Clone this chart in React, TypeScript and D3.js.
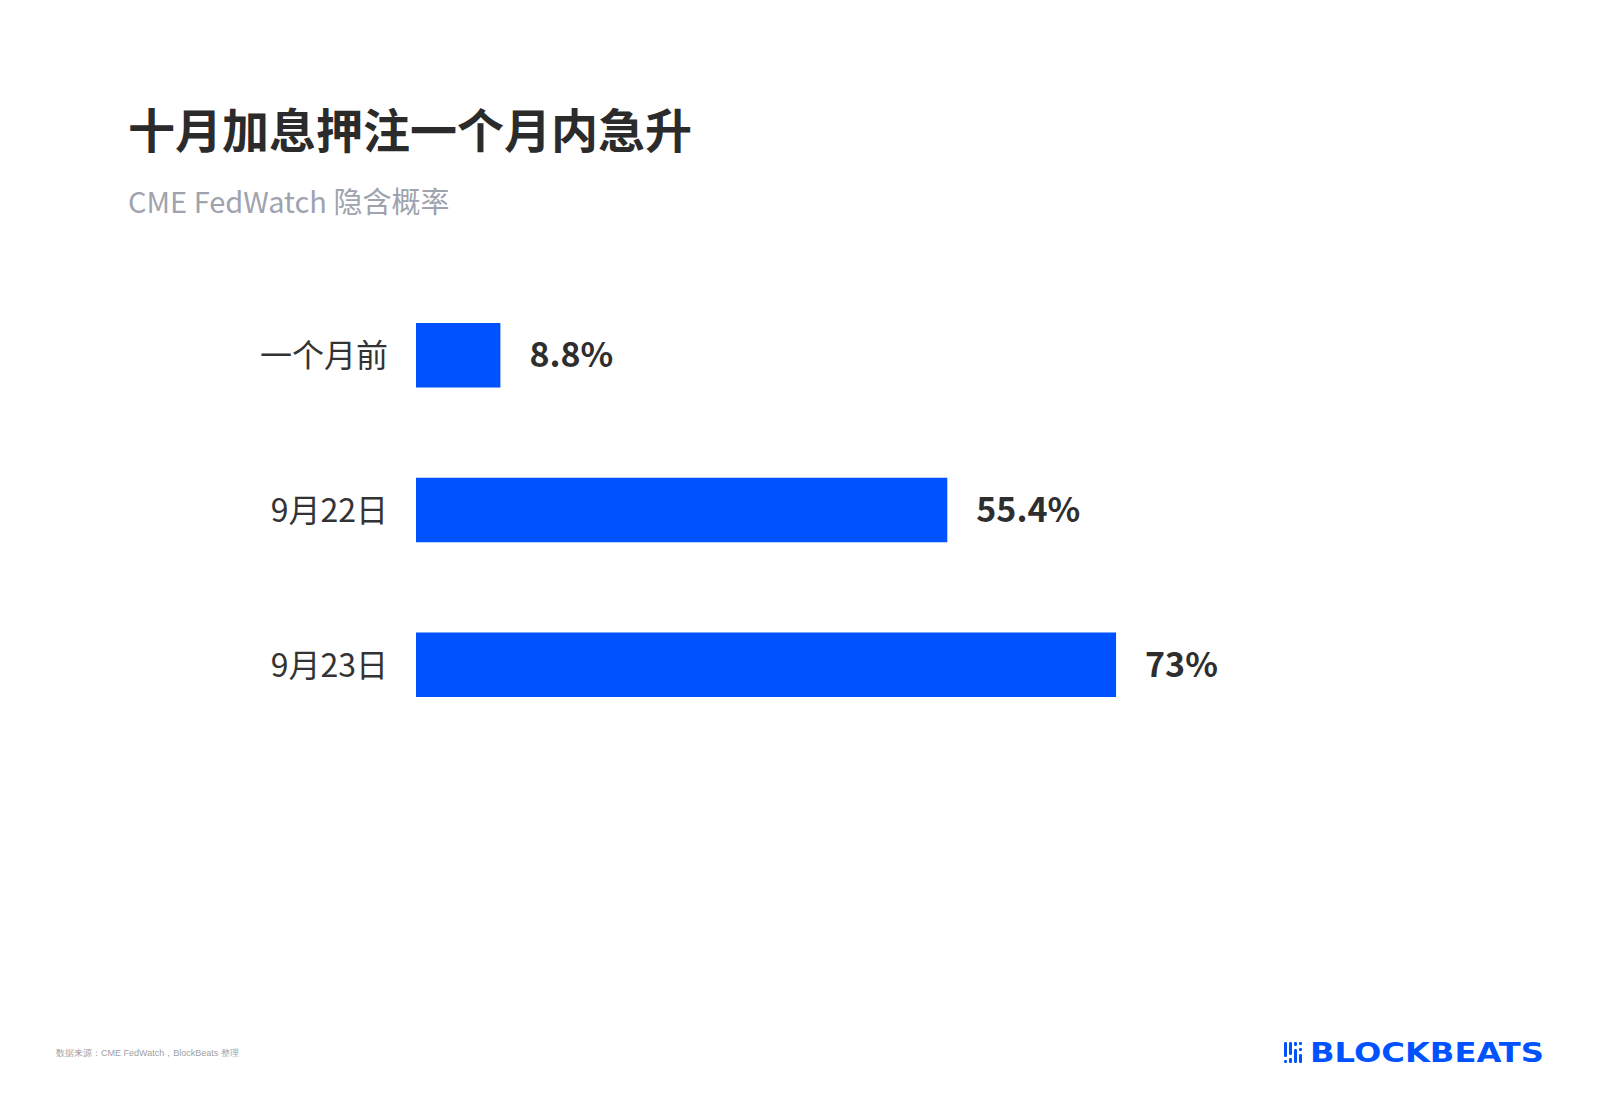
import React from "react";
import * as d3 from "d3";

const categories = ["一个月前", "9月22日", "9月23日"];
const values = [8.8, 55.4, 73];
const valueLabels = ["8.8%", "55.4%", "73%"];
const title = "十月加息押注一个月内急升";
const subtitle = "CME FedWatch 隐含概率";
const source = "数据来源：CME FedWatch，BlockBeats 整理";

const W = 1600;
const H = 1105;
const FONT = "'Noto Sans CJK SC', 'Noto Sans', sans-serif";
const BLUE = "#0052ff";

export default function App() {
  const x = d3.scaleLinear().domain([0, 100]).range([416, 1375]);
  const y = d3
    .scaleBand<string>()
    .domain(categories)
    .range([323, 697])
    .paddingInner(0.583)
    .paddingOuter(0);

  // logo icon columns: [x offset, segments [y0,y1]]
  const iconCols: [number, [number, number][]][] = [
    [0, [[0, 15], [18, 21]]],
    [5, [[0, 13], [16, 21]]],
    [10, [[0, 4], [7, 21]]],
    [15, [[0, 3], [6, 9], [12, 21]]],
  ];

  return (
    <svg width={W} height={H} style={{ display: "block", position: "absolute", left: 0, top: 0 }} fontFamily={FONT}>
      <rect x={0} y={0} width={W} height={H} fill="#ffffff" />
      <text x={128} y={148} fontSize={47} fontWeight={700} fill="#2b2b2b">
        {title}
      </text>
      <text x={128} y={213} fontSize={29} fill="#9ea3ad">
        {subtitle}
      </text>
      {categories.map((c, i) => {
        const yc = (y(c) as number) + y.bandwidth() / 2;
        return (
          <g key={c}>
            <rect x={x(0)} y={y(c)} width={x(values[i]) - x(0)} height={y.bandwidth()} fill={BLUE} />
            <text x={388} y={yc + 12} fontSize={32} fill="#333" textAnchor="end">
              {c}
            </text>
            <text x={x(values[i]) + 29} y={yc + 12} fontSize={34} fontWeight={700} fill="#2e2e2e">
              {valueLabels[i]}
            </text>
          </g>
        );
      })}
      <text x={56} y={1056} fontSize={9} fill="#a0a0a0" fontFamily="'Liberation Sans', Arial, sans-serif">
        {source}
      </text>
      <g transform="translate(1284,1042)">
        {iconCols.map(([dx, segs], i) =>
          segs.map(([a, b], j) => (
            <rect key={i + "-" + j} x={dx} y={a} width={3} height={b - a} rx={1.2} fill={BLUE} />
          ))
        )}
      </g>
      <text
        x={1310}
        y={1062}
        fontSize={26}
        fontWeight={700}
        fill={BLUE}
        fontFamily="'DejaVu Sans', sans-serif"
        textLength={234}
        lengthAdjust="spacingAndGlyphs"
      >
        BLOCKBEATS
      </text>
    </svg>
  );
}
